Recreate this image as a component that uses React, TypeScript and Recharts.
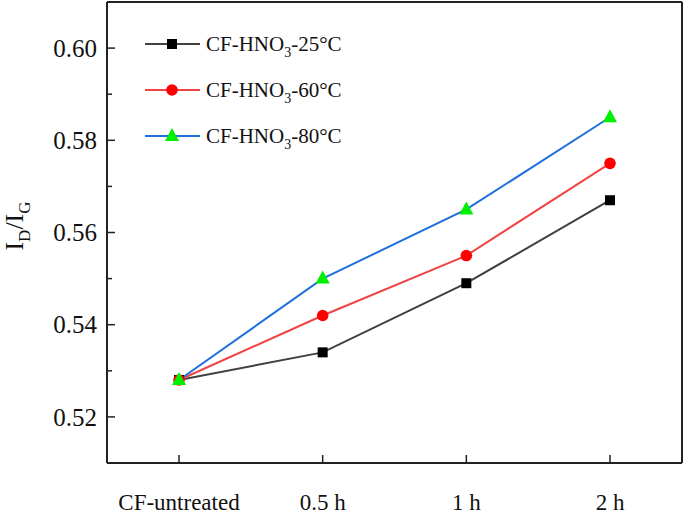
import React from 'react';
import { LineChart, Line, XAxis, YAxis, Legend, CartesianGrid } from 'recharts';

const categories = ['CF-untreated', '0.5 h', '1 h', '2 h'];
const series25 = [0.528, 0.534, 0.549, 0.567];
const series60 = [0.528, 0.542, 0.555, 0.575];
const series80 = [0.528, 0.55, 0.565, 0.585];
const yTicks = [0.52, 0.53, 0.54, 0.55, 0.56, 0.57, 0.58, 0.59, 0.6];
const seriesNames = ['-25°C', '-60°C', '-80°C'];

const FONT = '"Liberation Serif", "Times New Roman", serif';
const AXIS = '#222';

const data = categories.map((c, i) => ({
  cat: c,
  s25: series25[i],
  s60: series60[i],
  s80: series80[i],
}));

const seriesCfg = [
  { key: 's25', line: '#404040', marker: '#000000', shape: 'square' },
  { key: 's60', line: '#f04444', marker: '#ff0000', shape: 'circle' },
  { key: 's80', line: '#1f6fdc', marker: '#00ee00', shape: 'triangle' },
];

function Marker({ cx, cy, shape, color }: any) {
  if (cx == null || cy == null) return null;
  if (shape === 'square') {
    return <rect x={cx - 5} y={cy - 5} width={10} height={10} fill={color} />;
  }
  if (shape === 'circle') {
    return <circle cx={cx} cy={cy} r={5.8} fill={color} />;
  }
  return (
    <polygon
      points={`${cx},${cy - 8} ${cx - 7},${cy + 5} ${cx + 7},${cy + 5}`}
      fill={color}
    />
  );
}

const YTick = (props: any) => {
  const { x, y, payload } = props;
  const v = payload.value as number;
  const major = Math.round(v * 100) % 2 === 0;
  return (
    <g>
      <line x1={x} x2={x + (major ? 8 : 5)} y1={y} y2={y} stroke={AXIS} strokeWidth={1.5} />
      {major && (
        <text x={x - 10} y={y} dy="0.35em" textAnchor="end" fontSize={25} fontFamily={FONT} fill="#111">
          {v.toFixed(2)}
        </text>
      )}
    </g>
  );
};

const XTick = (props: any) => {
  const { x, y, payload } = props;
  return (
    <g>
      <line x1={x} x2={x} y1={y} y2={y - 8} stroke={AXIS} strokeWidth={1.5} />
      <text x={x} y={y + 47} textAnchor="middle" fontSize={23} fontFamily={FONT} fill="#111">
        {payload.value}
      </text>
    </g>
  );
};

const YLabel = () => (
  <text
    x={0}
    y={0}
    transform="translate(23,226) rotate(-90)"
    textAnchor="middle"
    fontSize={26}
    fontFamily={FONT}
    fill="#111"
  >
    <tspan>I</tspan>
    <tspan fontSize={17} dy={7}>D</tspan>
    <tspan dy={-7}>/I</tspan>
    <tspan fontSize={17} dy={7}>G</tspan>
  </text>
);

const LegendContent = () => (
  <svg width={400} height={170} style={{ display: 'block' }}>
    {seriesCfg.map((s, i) => {
      const y = 44 + i * 46;
      return (
        <g key={s.key}>
          <line x1={145} x2={200} y1={y} y2={y} stroke={s.line} strokeWidth={2} />
          <Marker cx={172} cy={y} shape={s.shape} color={s.marker} />
          <text x={206} y={y} dy="0.35em" fontSize={21} fontFamily={FONT} fill="#111">
            <tspan>CF-HNO</tspan>
            <tspan fontSize={14} dy={6}>3</tspan>
            <tspan dy={-6}>{seriesNames[i]}</tspan>
          </text>
        </g>
      );
    })}
  </svg>
);

export default function App() {
  return (
    <div style={{ position: 'absolute', left: 0, top: 0, background: '#fff' }}>
      <LineChart width={685} height={514} data={data} margin={{ top: 2, right: 3, bottom: 0, left: 0 }}>
        <CartesianGrid
          stroke={AXIS}
          strokeWidth={2}
          horizontalCoordinatesGenerator={({ offset }: any) => [offset.top]}
          verticalCoordinatesGenerator={({ offset }: any) => [offset.left + offset.width]}
        />
        <XAxis
          dataKey="cat"
          height={51}
          padding={{ left: 72, right: 72 }}
          interval={0}
          tickLine={false}
          tickSize={0}
          tickMargin={0}
          axisLine={{ stroke: AXIS, strokeWidth: 2 }}
          tick={<XTick />}
        />
        <YAxis
          type="number"
          domain={[0.51, 0.61]}
          ticks={yTicks}
          interval={0}
          allowDataOverflow
          width={107}
          tickLine={false}
          tickSize={0}
          tickMargin={0}
          axisLine={{ stroke: AXIS, strokeWidth: 2 }}
          tick={<YTick />}
          label={<YLabel />}
        />
        <Legend
          layout="vertical"
          align="center"
          verticalAlign="middle"
          wrapperStyle={{ position: 'absolute', left: 0, top: 0, width: 400, height: 170 }}
          content={<LegendContent />}
        />
        {seriesCfg.map((s) => (
          <Line
            key={s.key}
            dataKey={s.key}
            stroke={s.line}
            strokeWidth={2}
            isAnimationActive={false}
            dot={(p: any) => <Marker key={`${s.key}-${p.index}`} cx={p.cx} cy={p.cy} shape={s.shape} color={s.marker} />}
            activeDot={false}
          />
        ))}
      </LineChart>
    </div>
  );
}
